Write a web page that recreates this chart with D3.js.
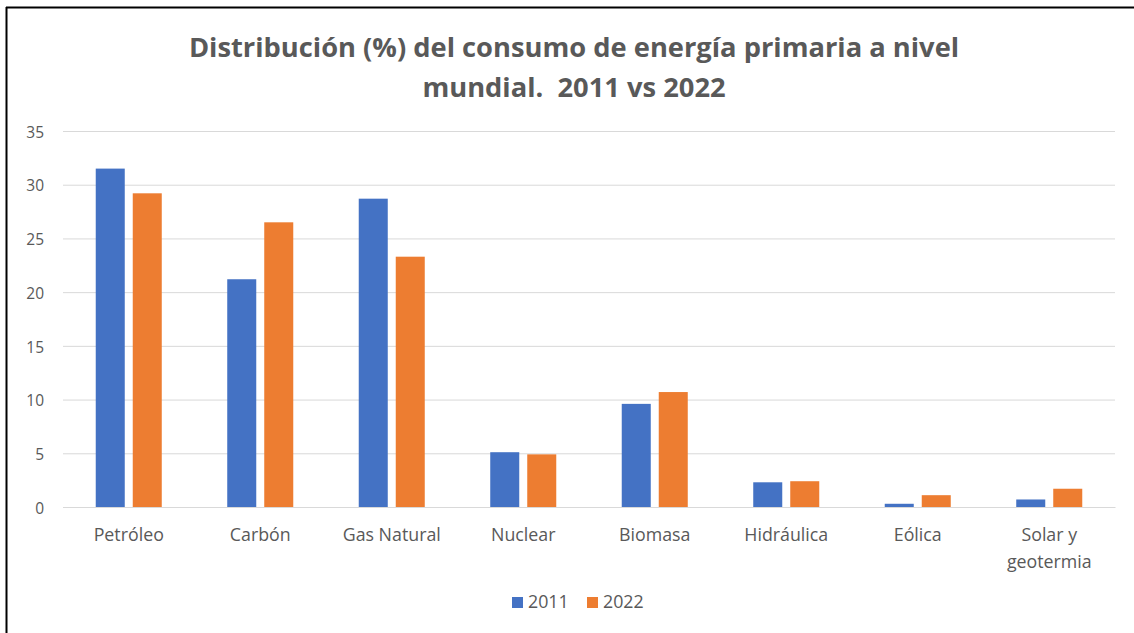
<!DOCTYPE html>
<html>
<head>
<meta charset="utf-8">
<script src="https://cdn.jsdelivr.net/npm/d3@7"></script>
<style>
  html, body { margin: 0; padding: 0; background: #fff; }
  svg { display: block; }
  text { font-family: "Open Sans", Lato, sans-serif; fill: #595959; }
</style>
</head>
<body>
<svg id="chart" width="1134" height="633"></svg>
<script>
const categories = ["Petróleo", "Carbón", "Gas Natural", "Nuclear", "Biomasa", "Hidráulica", "Eólica", "Solar y geotermia"];
const seriesNames = ["2011", "2022"];
const values2011 = [31.5, 21.2, 28.7, 5.1, 9.6, 2.3, 0.3, 0.7];
const values2022 = [29.2, 26.5, 23.3, 4.9, 10.7, 2.4, 1.1, 1.7];
const yTicks = [0, 5, 10, 15, 20, 25, 30, 35];
const titleLines = ["Distribución (%) del consumo de energía primaria a nivel", "mundial.  2011 vs 2022"];
const colors = ["#4472C4", "#ED7D31"];

const svg = d3.select("#chart");
const W = 1134, H = 633;
const FONT = '"Open Sans", Lato, sans-serif';

svg.append("rect").attr("x", 0).attr("y", 0).attr("width", W).attr("height", H).attr("fill", "#fff");
// frame (top and left edges visible)
svg.append("line").attr("x1", 6).attr("x2", W).attr("y1", 7.5).attr("y2", 7.5).attr("stroke", "#000").attr("stroke-width", 2);
svg.append("line").attr("x1", 6.5).attr("x2", 6.5).attr("y1", 7).attr("y2", H).attr("stroke", "#000").attr("stroke-width", 2);

const plot = { left: 63, right: 1115, top: 131, bottom: 507 };

const x0 = d3.scaleBand().domain(categories).range([plot.left, plot.right]).paddingInner(0).paddingOuter(0);
const bw = x0.bandwidth();
const x1 = d3.scaleBand().domain(seriesNames).range([bw * 0.249, bw * 0.751]).paddingInner(0.216).paddingOuter(0);
const y = d3.scaleLinear().domain([0, 35]).range([plot.bottom, plot.top]);

// title
const title = svg.append("g");
titleLines.forEach((t, i) => {
  title.append("text")
    .attr("x", 574).attr("y", 57 + i * 40)
    .attr("text-anchor", "middle")
    .attr("font-size", 27.3).attr("font-weight", "bold")
    .style("white-space", "pre")
    .attr("xml:space", "preserve")
    .text(t);
});

// grid
const yAxis = d3.axisLeft(y).tickValues(yTicks).tickSize(-(plot.right - plot.left)).tickPadding(19);
const gy = svg.append("g").attr("transform", `translate(${plot.left},0)`).call(yAxis);
gy.select(".domain").remove();
gy.selectAll(".tick line").attr("stroke", "#d9d9d9").attr("stroke-width", 1);
gy.selectAll(".tick text").attr("font-size", 15.5).attr("fill", "#595959").style("font-family", FONT).attr("dy", "0.4em");

// bars
const data = categories.map((c, i) => ({ cat: c, vals: [values2011[i], values2022[i]] }));
const groups = svg.append("g").selectAll("g").data(data).join("g")
  .attr("transform", d => `translate(${x0(d.cat)},0)`);
groups.selectAll("rect").data(d => d.vals.map((v, j) => ({ key: seriesNames[j], v, j })))
  .join("rect")
  .attr("x", d => x1(d.key))
  .attr("width", x1.bandwidth())
  .attr("y", d => y(d.v))
  .attr("height", d => y(0) - y(d.v))
  .attr("fill", d => colors[d.j]);

// x axis labels
const xAxis = d3.axisBottom(x0).tickSize(0).tickPadding(0);
const gx = svg.append("g").attr("transform", `translate(0,${plot.bottom})`).call(xAxis);
gx.select(".domain").attr("stroke", "#d9d9d9");
gx.selectAll(".tick text").remove();
gx.selectAll(".tick").each(function(d) {
  const g = d3.select(this);
  const words = d === "Solar y geotermia" ? ["Solar y", "geotermia"] : [d];
  const t = g.append("text").attr("text-anchor", "middle").attr("font-size", 17.8).attr("fill", "#595959")
    .style("font-family", FONT);
  words.forEach((w, i) => {
    t.append("tspan").attr("x", 0).attr("y", 34 + i * 27).text(w);
  });
});

// legend
const legend = svg.append("g").attr("transform", "translate(0,608)");
const legendX = [512, 587];
seriesNames.forEach((s, i) => {
  legend.append("rect").attr("x", legendX[i]).attr("y", -11).attr("width", 11).attr("height", 11).attr("fill", colors[i]);
  legend.append("text").attr("x", legendX[i] + 16).attr("y", 0).attr("font-size", 17.8).style("font-family", FONT).text(s);
});
</script>
</body>
</html>
